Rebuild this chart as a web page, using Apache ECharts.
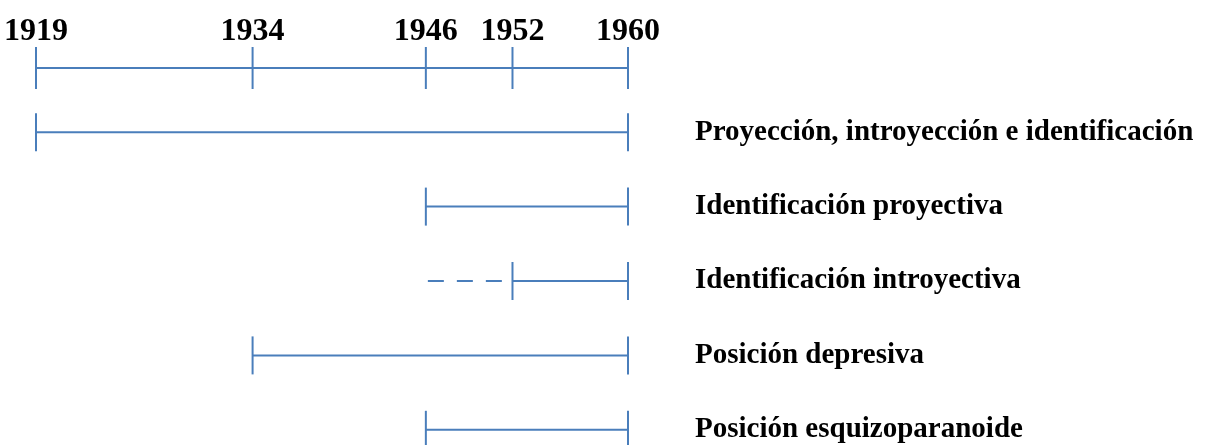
<!DOCTYPE html>
<html>
<head>
<meta charset="utf-8">
<script src="https://cdn.jsdelivr.net/npm/echarts@6/dist/echarts.min.js"></script>
<style>
  html, body { margin: 0; padding: 0; background: #fff; }
  #chart { width: 1206px; height: 445px; }
</style>
</head>
<body>
<div id="chart"></div>
<script>
// años marcados en la línea de tiempo
const tickYears = [1919, 1934, 1946, 1952, 1960];

// conceptos y sus periodos
const concepts = [
    'Proyección, introyección e identificación',
    'Identificación proyectiva',
    'Identificación introyectiva',
    'Posición depresiva',
    'Posición esquizoparanoide'
];
const startYears = [1919, 1946, 1952, 1934, 1946];
const endYears = [1960, 1960, 1960, 1960, 1960];
const dashedFromYears = [null, null, 1946, null, null];

const lineColor = '#4a7ebb';
const serif = "'Liberation Serif', 'Times New Roman', serif";

const chart = echarts.init(document.getElementById('chart'));

function cap(p, half) {
    return {
        type: 'line',
        shape: { x1: p[0], y1: p[1] - half, x2: p[0], y2: p[1] + half },
        style: { stroke: lineColor, lineWidth: 2 }
    };
}

// línea de tiempo superior
function renderTimeline(params, api) {
    const first = api.coord([tickYears[0], 0]);
    const last = api.coord([tickYears[tickYears.length - 1], 0]);
    const children = [{
        type: 'line',
        shape: { x1: first[0], y1: first[1], x2: last[0], y2: last[1] },
        style: { stroke: lineColor, lineWidth: 2 }
    }];
    tickYears.forEach(y => children.push(cap(api.coord([y, 0]), 21)));
    return { type: 'group', children };
}

// periodo de cada concepto
function renderSpan(params, api) {
    const row = api.value(0);
    const s = api.coord([api.value(1), row]);
    const e = api.coord([api.value(2), row]);
    const children = [
        {
            type: 'line',
            shape: { x1: s[0], y1: s[1], x2: e[0], y2: e[1] },
            style: { stroke: lineColor, lineWidth: 2 }
        },
        cap(s, 19),
        cap(e, 19)
    ];
    const d = api.value(3);
    if (!isNaN(d)) {
        const p = api.coord([d, row]);
        children.push({
            type: 'line',
            shape: { x1: p[0] + 2, y1: p[1], x2: s[0] - 10, y2: s[1] },
            style: { stroke: lineColor, lineWidth: 2, lineDash: [16, 13] }
        });
    }
    return { type: 'group', children };
}

const option = {
    animation: false,
    grid: [
        { left: 36, right: 578, top: 48, height: 40, outerBoundsMode: 'none', containLabel: false },
        { left: 36, right: 578, top: 95, height: 372, outerBoundsMode: 'none', containLabel: false }
    ],
    xAxis: [
        {
            gridIndex: 0, type: 'value', position: 'top',
            min: tickYears[0], max: tickYears[tickYears.length - 1],
            axisLine: { show: false }, axisTick: { show: false }, splitLine: { show: false },
            axisLabel: {
                customValues: tickYears,
                formatter: v => String(v),
                margin: 0,
                color: '#000', fontFamily: serif, fontWeight: 'bold', fontSize: 32
            }
        },
        {
            gridIndex: 1, type: 'value', show: false,
            min: tickYears[0], max: tickYears[tickYears.length - 1],
            splitLine: { show: false }
        }
    ],
    yAxis: [
        {
            gridIndex: 0, type: 'category', data: [''], show: false
        },
        {
            gridIndex: 1, type: 'category', data: concepts, inverse: true, position: 'right',
            axisLine: { show: false }, axisTick: { show: false }, splitLine: { show: false },
            axisLabel: {
                margin: 67,
                color: '#000', fontFamily: serif, fontWeight: 'bold', fontSize: 29
            }
        }
    ],
    series: [
        {
            type: 'custom', xAxisIndex: 0, yAxisIndex: 0,
            renderItem: renderTimeline,
            data: [[tickYears[0], 0]],
            encode: { x: 0, y: 1 }
        },
        {
            type: 'custom', xAxisIndex: 1, yAxisIndex: 1,
            renderItem: renderSpan,
            encode: { y: 0, x: [1, 2, 3] },
            data: concepts.map((c, i) => [i, startYears[i], endYears[i], dashedFromYears[i] === null ? '-' : dashedFromYears[i]])
        }
    ]
};

option && chart.setOption(option);
</script>
</body>
</html>
